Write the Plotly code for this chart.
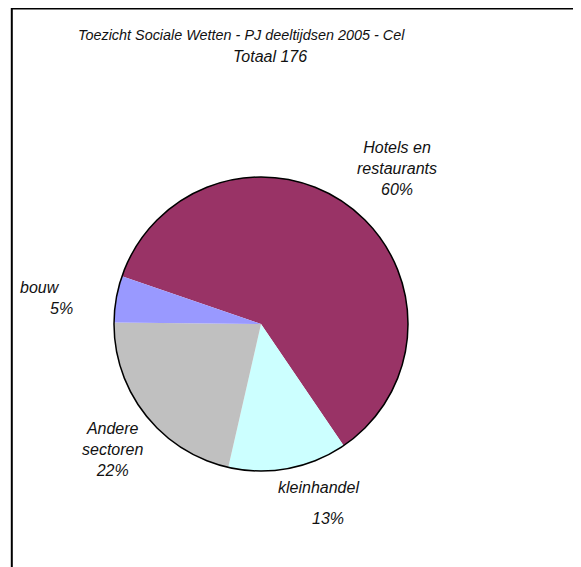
import plotly.graph_objects as go

categories = ["Hotels en restaurants", "kleinhandel", "Andere sectoren", "bouw"]
counts = [106, 23, 38, 9]
colors = ["#993366", "#CCFFFF", "#C0C0C0", "#9999FF"]
title_lines = ["Toezicht Sociale Wetten - PJ deeltijdsen 2005 - Cel", "Totaal 176"]

W, H = 581, 567
OFF = 8  # page body margin offset
total = sum(counts)
pct = [f"{round(100 * c / total)}%" for c in counts]

dom_x = [(114 - OFF) / W, (408 - OFF) / W]
dom_y = [1 - (471 - OFF) / H, 1 - (177 - OFF) / H]

fig = go.Figure()
fig.add_trace(go.Pie(
    labels=categories, values=counts, sort=False, direction="clockwise",
    rotation=-71, marker=dict(colors=colors, line=dict(width=0)),
    textinfo="none", hoverinfo="label+percent", showlegend=False,
    domain=dict(x=dom_x, y=dom_y),
))
fig.add_trace(go.Pie(
    labels=["outline"], values=[1], sort=False,
    marker=dict(colors=["rgba(0,0,0,0)"], line=dict(color="black", width=1.5)),
    textinfo="none", hoverinfo="skip", showlegend=False,
    domain=dict(x=dom_x, y=dom_y),
))

FAMILY = "Liberation Sans, Arial, sans-serif"

def ann(text, x, y, xanchor="center", size=16):
    fig.add_annotation(text=f"<i>{text}</i>", x=(x - OFF) / W, y=1 - (y - OFF) / H,
                       xref="paper", yref="paper", showarrow=False,
                       xanchor=xanchor, yanchor="middle",
                       font=dict(family=FAMILY, size=size, color="#111"), align="center")

ann(title_lines[0], 241, 35, size=14.4)
ann(title_lines[1], 270, 56)
ann("Hotels en<br>restaurants<br>" + pct[0], 397, 169)
ann(categories[1], 318, 487)
ann(pct[1], 328, 518)
ann("Andere<br>sectoren<br>" + pct[2], 112, 449)
ann(categories[3], 18, 287, "left")
ann(pct[3], 75, 308, "right")

fig.add_shape(type="rect", xref="paper", yref="paper",
              x0=(11.8 - OFF) / W, x1=1.05, y0=-0.05, y1=1 - 0.5 / H,
              line=dict(color="black", width=2))

fig.update_layout(width=W, height=H, margin=dict(l=0, r=0, t=0, b=0),
                  paper_bgcolor="white", plot_bgcolor="white")
fig.write_html("out.html")
